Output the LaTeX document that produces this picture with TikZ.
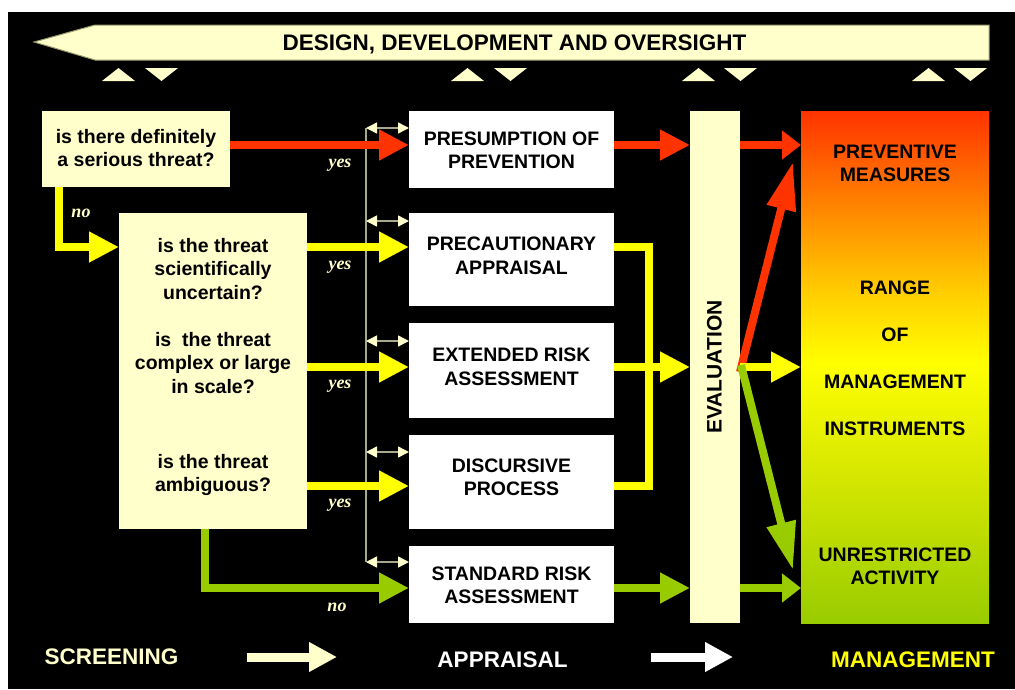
\documentclass[tikz,border=0pt]{standalone}
\usepackage{fontspec}
\setmainfont{Liberation Sans}
\newfontfamily\serifans{Liberation Serif}
\usetikzlibrary{arrows.meta}
\definecolor{cream}{HTML}{FFFFCC}
\definecolor{cred}{HTML}{FF3300}
\definecolor{cyel}{HTML}{FFFF00}
\definecolor{cgrn}{HTML}{99CC00}
\definecolor{corg}{HTML}{FF8800}
\definecolor{camb}{HTML}{FFCC00}
\definecolor{cyg}{HTML}{D8E800}
\definecolor{vlinec}{HTML}{A8A88A}
\definecolor{bord}{HTML}{9A9A70}
\pgfdeclareverticalshading{mgmtshade}{100bp}{color(0bp)=(cgrn); color(25bp)=(cgrn); color(40bp)=(cyg); color(50.4bp)=(cyel); color(57.5bp)=(camb); color(65.3bp)=(corg); color(75bp)=(cred); color(100bp)=(cred)}
\newcommand\boxfont{\fontsize{19.5}{23.5}\selectfont\bfseries}
\newcommand\bigfont{\fontsize{22.5}{26}\selectfont\bfseries}
\newcommand\evfont{\fontsize{21}{24}\selectfont\bfseries}
\newcommand\ansfont{\serifans\fontsize{18}{20}\selectfont\bfseries\itshape}
\tikzset{
  qbox/.style={fill=cream, draw=none, inner sep=0pt, outer sep=0pt},
  wbox/.style={fill=white, draw=none, inner sep=0pt, outer sep=0pt},
  lbl/.style={font=\boxfont, align=center, inner sep=0pt, text=black},
  biglbl/.style={font=\bigfont, inner sep=0pt},
  thk/.style={line width=8pt, line join=miter, -{Triangle[length=30pt,width=29pt]}},
  thks/.style={line width=8pt, -{Triangle[length=19pt,width=28pt]}},
  thkd/.style={line width=8pt, -{Triangle[length=48pt,width=28pt]}},
  thkline/.style={line width=8pt, line join=miter},
  ans/.style={font=\ansfont, text=cream, inner sep=0pt},
  dbl/.style={draw=vlinec, line width=1.5pt, {Triangle[length=11pt,width=11pt,color=cream]}-{Triangle[length=11pt,width=11pt,color=cream]}},
  trifill/.style={fill=cream, draw=none},
}
\begin{document}
\begin{tikzpicture}[x=1pt,y=-1pt]
\useasboundingbox (0,0) rectangle (1015,689);
\fill[white] (0,0) rectangle (1015,689);
\fill[black] (8,12) rectangle (1015,689);

% banner
\filldraw[fill=cream, draw=bord, line width=1pt] (34,42) -- (95,25) -- (989,25) -- (989,60) -- (95,60) -- cycle;
\node[biglbl, text=black] (banner) at (514.5,44) {DESIGN, DEVELOPMENT AND OVERSIGHT};

% small triangles
\foreach \u/\d in {102/145, 451/494, 682/724, 912/954}{
  \fill[trifill] (\u,81) -- (\u+33,81) -- (\u+16.5,68) -- cycle;
  \fill[trifill] (\d,68) -- (\d+33,68) -- (\d+16.5,81) -- cycle;
}

% coordinates
\coordinate (yA) at (0,145);
\coordinate (yB) at (0,247);
\coordinate (yC) at (0,367);
\coordinate (yD) at (0,486);
\coordinate (yE) at (0,588);
\coordinate (xn) at (59,0);
\coordinate (xg) at (205,0);
\coordinate (xm) at (649,0);
\coordinate (vt) at (366,128);
\coordinate (d2) at (366,221);
\coordinate (d3) at (366,341);
\coordinate (d4) at (366,452);
\coordinate (vb) at (366,562);

% screening boxes
\node[qbox, minimum width=188pt, minimum height=76pt] (q1) at (136,149) {};
\node[lbl] (q1t) at (136,148) {is there definitely\\a serious threat?};
\node[qbox, minimum width=188pt, minimum height=316pt] (q2) at (213,371) {};
\node[lbl] (q2a) at (213,269) {is the threat\\scientifically\\uncertain?};
\node[lbl] (q2b) at (213,363) {is~ the threat\\complex or large\\in scale?};
\node[lbl] (q2c) at (213,475) {is the threat\\ambiguous?};

% appraisal boxes
\node[wbox, minimum width=205pt, minimum height=77pt] (pA) at (511.5,149.5) {};
\node[wbox, minimum width=205pt, minimum height=93pt] (pB) at (511.5,259.5) {};
\node[wbox, minimum width=205pt, minimum height=95pt] (pC) at (511.5,370.5) {};
\node[wbox, minimum width=205pt, minimum height=94pt] (pD) at (511.5,482) {};
\node[wbox, minimum width=205pt, minimum height=77pt] (pE) at (511.5,584.5) {};
\node[lbl] (pAt) at (511.5,150.5) {PRESUMPTION OF\\PREVENTION};
\node[lbl] (pBt) at (511.5,256) {PRECAUTIONARY\\APPRAISAL};
\node[lbl] (pCt) at (511.5,367) {EXTENDED RISK\\ASSESSMENT};
\node[lbl] (pDt) at (511.5,477.5) {DISCURSIVE\\PROCESS};
\node[lbl] (pEt) at (511.5,585.5) {STANDARD RISK\\ASSESSMENT};

% evaluation
\node[qbox, minimum width=50pt, minimum height=512pt] (eval) at (715,367) {};
\node[lbl, font=\evfont, rotate=90] (evalt) at (714.5,367) {EVALUATION};

% management
\node[shading=mgmtshade, draw=none, inner sep=0pt, outer sep=0pt, minimum width=188pt, minimum height=512pt] (mgmt) at (895,367) {};
\node[lbl] (m1) at (895,163.5) {PREVENTIVE\\MEASURES};
\node[lbl] (m2) at (895,287.5) {RANGE};
\node[lbl] (m3) at (895,335) {OF};
\node[lbl] (m4) at (895,382) {MANAGEMENT};
\node[lbl] (m5) at (895,428.5) {INSTRUMENTS};
\node[lbl] (m6) at (895,566.5) {UNRESTRICTED\\ACTIVITY};

% thin bracket line with double arrows
\draw[draw=vlinec, line width=1.5pt] (vt) -- (vb);
\draw[dbl] (vt) -- (pA.west |- vt);
\draw[dbl] (d2) -- (pB.west |- d2);
\draw[dbl] (d3) -- (pC.west |- d3);
\draw[dbl] (d4) -- (pD.west |- d4);
\draw[dbl] (vb) -- (pE.west |- vb);

% screening -> appraisal
\draw[thk, cred] (q1.east |- yA) -- (pA.west |- yA);
\draw[thk, cyel] (q1.south -| xn) |- (q2.west |- yB);
\draw[thk, cyel] (q2.east |- yB) -- (pB.west |- yB);
\draw[thk, cyel] (q2.east |- yC) -- (pC.west |- yC);
\draw[thk, cyel] (q2.east |- yD) -- (pD.west |- yD);
\draw[thk, cgrn] (q2.south -| xg) |- (pE.west |- yE);

% appraisal -> evaluation
\draw[thk, cred] (pA.east |- yA) -- (eval.west |- yA);
\draw[thkline, cyel] (pB.east |- yB) -- (xm |- yB) -- (xm |- yD) -- (pD.east |- yD);
\draw[thk, cyel] (pC.east |- yC) -- (eval.west |- yC);
\draw[thk, cgrn] (pE.east |- yE) -- (eval.west |- yE);

% evaluation -> management
\coordinate (rs) at (740,372);
\coordinate (gs) at (741,365);
\coordinate (rt) at (793,162);
\coordinate (gt) at (793,570);
\draw[thks, cred] (eval.east |- yA) -- (mgmt.west |- yA);
\draw[thkd, cred] (rs) -- (rt);
\draw[thk, cyel] (eval.east |- yC) -- (mgmt.west |- yC);
\draw[thkd, cgrn] (gs) -- (gt);
\draw[thks, cgrn] (eval.east |- yE) -- (mgmt.west |- yE);

% yes / no labels
\node[ans] (no1) at (81,213) {no};
\node[ans] (yes1) at (340,165) {yes};
\node[ans] (yes2) at (340,267) {yes};
\node[ans] (yes3) at (340,386) {yes};
\node[ans] (yes4) at (340,505) {yes};
\node[ans] (no2) at (337,607) {no};

% bottom row
\node[biglbl, text=cream] (scr) at (111.5,656.5) {SCREENING};
\node[biglbl, text=white] (app) at (502.5,659.5) {APPRAISAL};
\node[biglbl, text=cyel] (man) at (913,659.5) {MANAGEMENT};
\coordinate (a1s) at (247,657);
\coordinate (a1e) at (337,657);
\coordinate (a2s) at (651,657);
\coordinate (a2e) at (733,657);
\draw[line width=9pt, cream, -{Triangle[length=28pt,width=28pt]}] (a1s) -- (a1e);
\draw[line width=9pt, white, -{Triangle[length=28pt,width=28pt]}] (a2s) -- (a2e);
\end{tikzpicture}
\end{document}
